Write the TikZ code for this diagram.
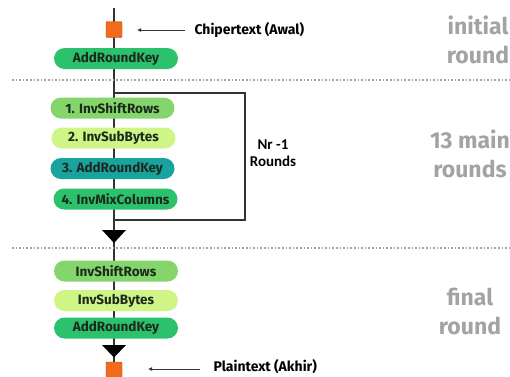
\documentclass[tikz,border=0pt]{standalone}
\usepackage{fontspec}
\setmainfont{Fira Sans}
\newfontfamily\carl{Carlito}
\usetikzlibrary{shapes.misc,arrows.meta}
\definecolor{cGreen}{HTML}{2CC16C}
\definecolor{cLight}{HTML}{84D56C}
\definecolor{cPale}{HTML}{CFF587}
\definecolor{cTeal}{HTML}{18A39E}
\definecolor{cOrange}{HTML}{F26B1D}
\definecolor{cGrey}{HTML}{A3A3A3}
\definecolor{cLine}{HTML}{333333}
\definecolor{cTxt}{HTML}{1C2A1C}
\begin{document}
\begin{tikzpicture}[x=1pt,y=-1pt,
  pill/.style={rounded rectangle, minimum width=124pt, minimum height=21pt, inner sep=0pt,
    font=\bfseries\fontsize{13.5}{14}\selectfont, text=cTxt},
  sq/.style={draw=cOrange!70!black, line width=0.4pt, fill=cOrange, minimum size=16pt, inner sep=0pt, rounded corners=1pt},
  side/.style={font=\bfseries\fontsize{23}{29}\selectfont, text=cGrey, align=center},
  lbl/.style={font=\bfseries\fontsize{14}{15}\selectfont, text=black, anchor=west},
  sep/.style={cGrey, line width=1.6pt, dotted},
  flow/.style={cLine, line width=1.2pt},
  tip/.style={fill=black}]
\useasboundingbox (0,0) rectangle (510,376);
% main flow line
\coordinate (ltop) at (114,8);
\coordinate (lbot) at (114,376);
\draw[flow] (ltop) -- (lbot);
% loop
\coordinate (lp1) at (114,93);
\coordinate (lp2) at (245,93);
\coordinate (lp3) at (245,220);
\coordinate (lp4) at (114,220);
\draw[flow] (lp1) -- (lp2) -- (lp3) -- (lp4);
% separators
\coordinate (s1a) at (12,80); \coordinate (s1b) at (510,80);
\coordinate (s2a) at (12,248); \coordinate (s2b) at (510,248);
\draw[sep] (s1a) -- (s1b);
\draw[sep] (s2a) -- (s2b);
% initial round
\node[sq] (ct) at (114,29.5) {};
\node[pill, fill=cGreen] (ark0) at (116,58.5) {AddRoundKey};
\node[lbl] (ctl) at (191,30) {Chipertext (Awal)};
\coordinate (cts) at (185,30);
\coordinate (cta) at (137,30);
\draw[cLine, line width=1pt, -{Latex[length=4pt,width=4pt]}] (cts) -- (cta);
% main rounds
\node[pill, fill=cLight] (m1) at (112.5,108) {1. InvShiftRows};
\node[pill, fill=cPale] (m2) at (113.5,138) {2. InvSubBytes};
\node[pill, fill=cTeal] (m3) at (112.5,168.5) {3. AddRoundKey};
\node[pill, fill=cGreen] (m4) at (115.5,199) {4. InvMixColumns};
\node[font=\carl\bfseries\fontsize{15}{17}\selectfont, align=center] (nr) at (273,153.5) {Nr -1\\Rounds};
% arrow head 1
\coordinate (t1) at (114,230);
\fill[tip] (t1) ++(-12,0) -- ++(24,0) -- ++(-12,13) -- cycle;
% final round
\node[pill, fill=cLight] (f1) at (116,271) {InvShiftRows};
\node[pill, fill=cPale] (f2) at (116,300.5) {InvSubBytes};
\node[pill, fill=cGreen] (f3) at (116,328) {AddRoundKey};
\coordinate (t2) at (114,345);
\fill[tip] (t2) ++(-12,0) -- ++(24,0) -- ++(-12,12.5) -- cycle;
\node[sq] (pt) at (114,370) {};
\node[lbl] (ptl) at (210,366.5) {Plaintext (Akhir)};
\coordinate (pts) at (200,369);
\coordinate (pta) at (148,369);
\draw[cLine, line width=1pt, -{Latex[length=4pt,width=4pt]}] (pts) -- (pta);
% side labels
\node[side] (r1) at (478,40) {initial\\round};
\node[side] (r2) at (470,154) {13 main\\rounds};
\node[side] (r3) at (470,311) {final\\round};
\end{tikzpicture}
\end{document}
